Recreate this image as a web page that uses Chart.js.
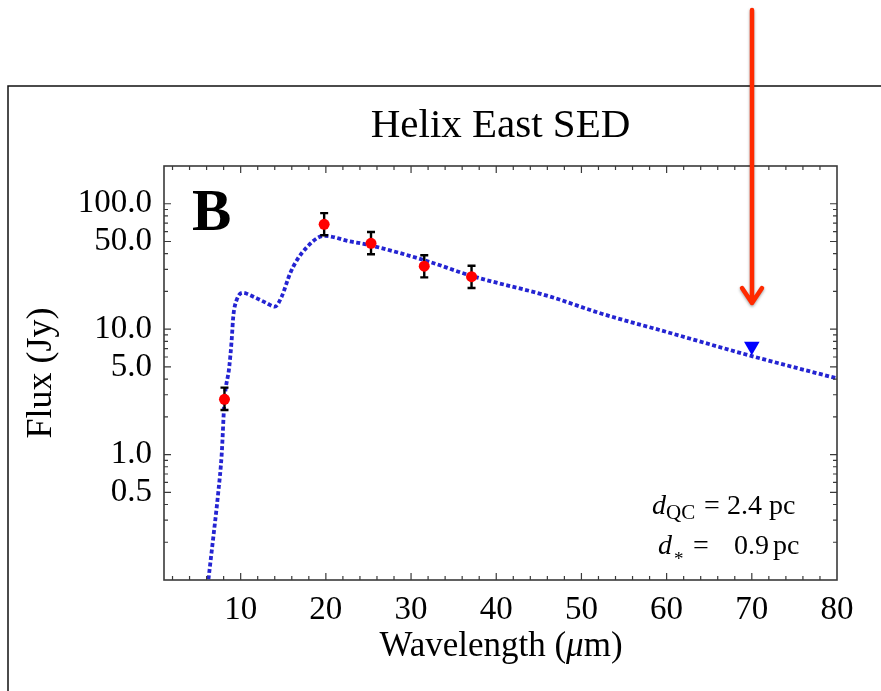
<!DOCTYPE html>
<html>
<head>
<meta charset="utf-8">
<script src="https://cdn.jsdelivr.net/npm/chart.js@4"></script>
<style>
  html, body { margin: 0; padding: 0; background: #fff; }
  canvas { display: block; }
</style>
</head>
<body>
<canvas id="sed" width="881" height="691"></canvas>
<script>
const SERIF = '"Liberation Serif", "DejaVu Serif", serif';

// measured fluxes (Jy) with error bars
const obsWavelength = [8.1, 19.8, 25.3, 31.55, 37.1];
const obsFlux = [2.76, 68.6, 48.4, 31.8, 26.2];
const obsFluxLow = [2.27, 56.1, 39.6, 25.9, 21.3];
const obsFluxHigh = [3.42, 84.2, 59.6, 38.9, 32.0];

// upper limit
const limitWavelength = [70];
const limitFlux = [7.3];

// model SED (dotted curve)
const modelWavelength = [6.04, 6.72, 7.37, 7.77, 8.1, 8.66, 8.95, 9.13, 9.53, 10.3, 11.0, 11.9, 13.0, 14.0, 14.8,
  15.8, 16.6, 17.8, 19.1, 19.9, 22.7, 24.8, 31.55, 37.1, 46.3, 52.2, 60, 70, 80];
const modelFlux = [0.08, 0.2, 0.5, 1.0, 2.7, 5.0, 8.3, 12.6, 17.1, 19.5, 18.8, 17.6, 16.2, 15.1, 18.1,
  27.8, 35.5, 45.2, 53.8, 55.4, 50.3, 47.3, 35.5, 26.6, 18.2, 13.4, 9.5, 6.1, 4.05];

// axis ticks
const xTickValues = [10, 20, 30, 40, 50, 60, 70, 80];
const yTickValues = [0.5, 1, 5, 10, 50, 100];

const xMinor = [];
for (let v = 2; v < 80; v += 2) xMinor.push(v);
const yMinor = [];
for (const dec of [0.1, 1, 10, 100]) {
  for (let k = 1; k <= 9; k++) {
    const v = +(k * dec).toPrecision(3);
    if (v > 0.1 && v < 200) yMinor.push(v);
  }
}

const toPoints = (xs, ys) => xs.map((x, i) => ({ x: x, y: ys[i] }));

// white page + outer box
const background = {
  id: 'background',
  beforeDraw(chart) {
    const ctx = chart.ctx;
    ctx.save();
    ctx.fillStyle = '#fff';
    ctx.fillRect(0, 0, chart.width, chart.height);
    ctx.strokeStyle = '#111';
    ctx.lineWidth = 1.5;
    ctx.beginPath();
    ctx.moveTo(8, chart.height);
    ctx.lineTo(8, 86);
    ctx.lineTo(chart.width, 86);
    ctx.stroke();
    ctx.restore();
  }
};

// error bars, drawn right after the model curve so dots sit on top
const errorBars = {
  id: 'errorBars',
  afterDatasetDraw(chart, args) {
    if (args.index !== 2) return;
    const { ctx, scales: { x, y } } = chart;
    ctx.save();
    ctx.strokeStyle = '#000';
    ctx.lineWidth = 2.4;
    ctx.beginPath();
    obsWavelength.forEach((w, i) => {
      const px = x.getPixelForValue(w);
      const lo = y.getPixelForValue(obsFluxLow[i]);
      const hi = y.getPixelForValue(obsFluxHigh[i]);
      ctx.moveTo(px, lo); ctx.lineTo(px, hi);
      ctx.moveTo(px - 4, lo); ctx.lineTo(px + 4, lo);
      ctx.moveTo(px - 4, hi); ctx.lineTo(px + 4, hi);
    });
    ctx.stroke();
    ctx.restore();
  }
};

// frame with inward ticks on all four sides
const frameTicks = {
  id: 'frameTicks',
  afterDatasetsDraw(chart) {
    const { ctx, chartArea: a, scales: { x, y } } = chart;
    ctx.save();
    ctx.strokeStyle = '#3a3a3a';
    ctx.lineWidth = 1.6;
    ctx.strokeRect(a.left, a.top, a.right - a.left, a.bottom - a.top);
    ctx.lineWidth = 1.2;
    ctx.beginPath();
    xMinor.forEach(v => {
      const px = x.getPixelForValue(v);
      const len = v % 10 === 0 ? 7 : 4;
      ctx.moveTo(px, a.bottom); ctx.lineTo(px, a.bottom - len);
      ctx.moveTo(px, a.top); ctx.lineTo(px, a.top + len);
    });
    yMinor.forEach(v => {
      const py = y.getPixelForValue(v);
      const len = yTickValues.includes(v) ? 7 : 4;
      ctx.moveTo(a.left, py); ctx.lineTo(a.left + len, py);
      ctx.moveTo(a.right, py); ctx.lineTo(a.right - len, py);
    });
    ctx.stroke();
    ctx.restore();
  }
};

// panel letter, distances, x-axis title and the red arrow
const annotations = {
  id: 'annotations',
  afterDraw(chart) {
    const ctx = chart.ctx;
    const a = chart.chartArea;
    ctx.save();
    ctx.fillStyle = '#000';
    ctx.textBaseline = 'alphabetic';
    ctx.textAlign = 'left';

    ctx.font = 'bold 59px ' + SERIF;
    ctx.fillText('B', 192, 230);

    const pieces = (list, base) => list.forEach(p => {
      ctx.font = p.f + SERIF;
      ctx.fillText(p.t, p.x, base + (p.dy || 0));
    });
    pieces([
      { t: 'd', x: 652, f: 'italic 28px ' },
      { t: 'QC', x: 666, f: '21px ', dy: 5 },
      { t: '=', x: 704, f: '28px ' },
      { t: '2.4', x: 727, f: '28px ' },
      { t: 'pc', x: 769, f: '28px ' }
    ], 514);
    pieces([
      { t: 'd', x: 658, f: 'italic 28px ' },
      { t: '*', x: 674, f: '19px ', dy: 11 },
      { t: '=', x: 693, f: '28px ' },
      { t: '0.9', x: 734, f: '28px ' },
      { t: 'pc', x: 773, f: '28px ' }
    ], 554);

    // x-axis title with italic mu
    const parts = [
      { t: 'Wavelength (', f: '35px ' },
      { t: 'μ', f: 'italic 35px ' },
      { t: 'm)', f: '35px ' }
    ];
    let total = 0;
    parts.forEach(p => { ctx.font = p.f + SERIF; p.w = ctx.measureText(p.t).width; total += p.w; });
    let cx = 501 - total / 2;
    parts.forEach(p => { ctx.font = p.f + SERIF; ctx.fillText(p.t, cx, 656); cx += p.w; });

    // red arrow
    ctx.strokeStyle = '#ff2a00';
    ctx.lineWidth = 4.5;
    ctx.lineCap = 'round';
    ctx.lineJoin = 'round';
    ctx.shadowColor = 'rgba(0,0,0,0.35)';
    ctx.shadowBlur = 3;
    ctx.shadowOffsetY = 1.5;
    ctx.beginPath();
    ctx.moveTo(752, 10);
    ctx.lineTo(752, 303);
    ctx.moveTo(742, 288);
    ctx.lineTo(752, 303);
    ctx.lineTo(762, 288);
    ctx.stroke();
    ctx.restore();
  }
};

new Chart(document.getElementById('sed'), {
  type: 'scatter',
  data: {
    datasets: [
      {
        label: 'Observed',
        data: toPoints(obsWavelength, obsFlux),
        backgroundColor: '#ff0000',
        borderWidth: 0,
        pointRadius: 5.5
      },
      {
        label: 'Upper limit',
        data: toPoints(limitWavelength, limitFlux),
        pointStyle: 'triangle',
        rotation: 180,
        backgroundColor: '#0000ff',
        borderWidth: 0,
        pointRadius: 9
      },
      {
        label: 'Model',
        data: toPoints(modelWavelength, modelFlux),
        showLine: true,
        borderColor: '#2424d2',
        borderWidth: 3.8,
        borderDash: [4, 2.5],
        cubicInterpolationMode: 'monotone',
        pointRadius: 0
      }
    ]
  },
  options: {
    responsive: false,
    animation: false,
    events: [],
    layout: { padding: { top: 80, right: 44, left: 0, bottom: 0 } },
    plugins: {
      legend: { display: false },
      tooltip: { enabled: false },
      title: {
        display: true,
        text: 'Helix East SED',
        fullSize: false,
        color: '#000',
        font: { family: SERIF, size: 41, weight: 'normal', lineHeight: 1 },
        padding: { top: 26, bottom: 19 }
      }
    },
    scales: {
      x: {
        type: 'linear',
        min: 1,
        max: 80,
        afterBuildTicks: s => { s.ticks = xTickValues.map(v => ({ value: v })); },
        afterFit: s => { s.height = 111; },
        grid: { display: false },
        border: { display: false },
        ticks: {
          padding: 3,
          maxRotation: 0,
          autoSkip: false,
          color: '#000',
          font: { family: SERIF, size: 33 }
        }
      },
      y: {
        type: 'logarithmic',
        min: 0.1,
        max: 200,
        afterBuildTicks: s => { s.ticks = yTickValues.map(v => ({ value: v })); },
        afterFit: s => { s.width = 164; },
        grid: { display: false },
        border: { display: false },
        ticks: {
          padding: 4,
          autoSkip: false,
          color: '#000',
          font: { family: SERIF, size: 33 },
          callback: v => Number(v).toFixed(1)
        },
        title: {
          display: true,
          text: 'Flux (Jy)',
          color: '#000',
          font: { family: SERIF, size: 36 },
          padding: { top: 20, bottom: 0 }
        }
      }
    }
  },
  plugins: [background, errorBars, frameTicks, annotations]
});
</script>
</body>
</html>
